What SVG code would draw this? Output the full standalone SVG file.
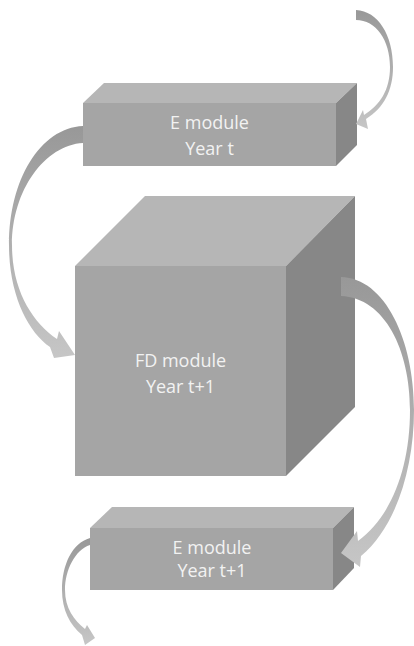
<svg xmlns="http://www.w3.org/2000/svg" width="414" height="646" viewBox="0 0 414 646">
<defs>
<linearGradient id="ag" x1="0" y1="0" x2="0" y2="1">
<stop offset="0" stop-color="#989898"/>
<stop offset="1" stop-color="#c6c6c6"/>
</linearGradient>
<style>
.front{fill:#a5a5a5}
.top{fill:#b6b6b6}
.side{fill:#878787}
.lbl{font-family:"Open Sans","Liberation Sans",sans-serif;font-size:18px;fill:#f2f2f2;text-anchor:middle}
.arr{fill:url(#ag)}
</style>
</defs>
<rect width="414" height="646" fill="#ffffff"/>
<g id="e-module-t">
<polygon class="top" points="83,103 104,83 357,83 336,103"/>
<polygon class="side" points="336,103 357,83 357,145 336,166"/>
<rect class="front" x="83" y="103" width="253" height="63"/>
<text class="lbl" x="209.5" y="128.5">E module</text>
<text class="lbl" x="209.5" y="154.5">Year t</text>
</g>
<g id="fd-module">
<polygon class="top" points="75,266 145,196 355,196 286,266"/>
<polygon class="side" points="286,266 355,196 355,407 286,476"/>
<rect class="front" x="75" y="266" width="211" height="210"/>
<text class="lbl" x="180.5" y="366.5">FD module</text>
<text class="lbl" x="180.5" y="392.5">Year t+1</text>
</g>
<g id="e-module-t1">
<polygon class="top" points="90,528 112,507 354,507 333,528"/>
<polygon class="side" points="333,528 354,507 354,568 333,590"/>
<rect class="front" x="90" y="528" width="243" height="62"/>
<text class="lbl" x="212" y="553.5">E module</text>
<text class="lbl" x="212" y="577">Year t+1</text>
</g>
<g id="connectors">
<path class="arr" d="M356 10 C378 11 393 35 393 67 C393 90 384 108 366 119 L368 129 L356 124 L363 110 L364 115 C380 105 390 90 390 67 C390 40 376 20 356 20 Z"/>
<path class="arr" d="M83 126 C40 128 9 180 9 245 C9 295 28 332 50 347 L54 358 L75 355 L59 331 L57 339 C32 322 12 290 12 245 C12 190 45 145 83 143 Z"/>
<path class="arr" d="M341 277 C385 278 414 340 414 410 C414 470 395 528 361 556 L360 567 L341 553 L357 531 L358 541 C390 518 410 470 410 410 C410 350 385 298 341 296 Z"/>
<path class="arr" d="M90 538 C72 543 62 565 62 590 C62 610 70 625 82 635 L85 645 L95 638 L87 625 L85 629 C74 620 65 608 65 590 C65 570 75 550 90 545 Z"/>
</g>
</svg>
